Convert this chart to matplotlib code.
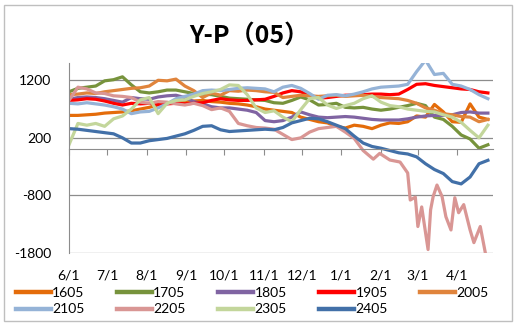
import numpy as np
import pandas as pd
import matplotlib
matplotlib.use('Agg')
import matplotlib.pyplot as plt
from matplotlib.patches import Rectangle

# days counted from 2023-06-01, one reading per week
days = list(range(0, 330, 7))

s1605 = [590, 590, 600, 610, 630, 640, 650, 670, 700, 730, 770, 800, 820, 830, 840, 850,
         830, 820, 800, 790, 770, 740, 700, 680, 660, 640, 560, 520, 480, 460, 400, 370,
         420, 400, 360, 420, 460, 450, 480, 580, 560, 780, 650, 480, 470, 790, 560, 520]
s1705 = [1000, 1060, 1080, 1100, 1190, 1210, 1260, 1120, 1000, 980, 1000, 1030, 1030, 1000, 970, 960,
         950, 920, 890, 880, 870, 860, 850, 810, 800, 850, 910, 860, 770, 780, 800, 730,
         720, 730, 700, 680, 700, 730, 760, 800, 760, 560, 520, 400, 250, 180, 20, 80]
s1805 = [870, 900, 910, 900, 880, 850, 820, 900, 880, 870, 910, 930, 940, 900, 830, 790,
         740, 720, 720, 700, 680, 640, 500, 480, 500, 560, 650, 600, 560, 550, 560, 570,
         560, 540, 520, 510, 510, 510, 530, 560, 580, 590, 590, 600, 640, 650, 630, 630]
s1905 = [850, 860, 880, 870, 840, 800, 770, 800, 790, 800, 780, 790, 800, 790, 800, 810,
         850, 880, 860, 850, 850, 860, 870, 920, 980, 1020, 1000, 940, 890, 900, 920, 940,
         940, 950, 960, 960, 950, 960, 1040, 1130, 1140, 1110, 1090, 1070, 1050, 1040, 1000, 980]
s2005 = [950, 960, 980, 970, 1000, 1020, 1040, 1060, 1070, 1100, 1200, 1190, 1220, 1100, 1020, 900,
         980, 940, 1020, 1010, 1030, 1020, 1000, 990, 900, 920, 940, 930, 920, 930, 940, 920,
         930, 940, 920, 900, 890, 880, 850, 800, 720, 680, 620, 600, 570, 560, 480, 520]
s2105 = [800, 790, 810, 790, 770, 740, 700, 620, 650, 660, 720, 790, 880, 920, 960, 1020,
         1030, 1020, 1040, 1060, 1070, 1060, 1050, 1000, 1080, 1110, 1060, 970, 870, 940, 950, 930,
         960, 1000, 1050, 1080, 1090, 1100, 1130, 1350, 1550, 1300, 1320, 1130, 1100, 1040, 950, 880]
s2305 = [80, 450, 420, 450, 400, 530, 580, 700, 860, 900, 620, 800, 850, 860, 920, 970,
         1000, 1040, 1120, 1110, 950, 720, 640, 670, 560, 480, 690, 880, 900, 770, 710, 760,
         800, 880, 930, 820, 760, 740, 700, 680, 660, 650, 600, 560, 470, 330, 200, 420]
s2405 = [360, 350, 330, 310, 290, 270, 200, 110, 110, 150, 170, 190, 230, 270, 330, 400,
         410, 340, 310, 320, 330, 340, 350, 340, 380, 460, 500, 540, 530, 480, 420, 360,
         230, 110, 50, 20, -20, -60, -80, -130, -250, -350, -420, -560, -600, -480, -250, -190]

# 2205 swings a lot near the end, so it is read more often there
days_2205 = list(range(0, 225, 7)) + [231, 239, 244, 252, 260, 266, 268, 272, 274, 277, 282, 284,
                                      286, 289, 293, 296, 300, 303, 306, 310, 315, 318, 323, 327]
s2205 = [850, 1080, 1050, 980, 970, 930, 920, 900, 820, 800, 830, 820, 790, 770, 800, 760,
         690, 720, 660, 450, 410, 380, 370, 350, 260, 170, 200, 300, 360, 380, 400, 300, 190,
         -20, -170, -70, -185, -220, -410, -880, -830, -1340, -1000, -1740, -1050,
         -820, -620, -820, -1170, -1400, -840, -1100, -960, -1400, -1620, -1340, -1800]

names = ['1605', '1705', '1805', '1905', '2005', '2105', '2205', '2305', '2405']
colors = ['#E46C0A', '#77933C', '#8064A2', '#FF0000', '#E0843C',
          '#95B3D7', '#D99694', '#C3D69B', '#4270A8']

month_days = [(d - pd.Timestamp('2023-06-01')).days
              for d in pd.date_range('2023-06-01', periods=11, freq='MS')]
month_labels = ['6/1', '7/1', '8/1', '9/1', '10/1', '11/1', '12/1', '1/1', '2/1', '3/1', '4/1']

plt.rcParams['font.family'] = ['Lato', 'DejaVu Sans']
plt.rcParams['axes.unicode_minus'] = False

fig = plt.figure(figsize=(5.16, 3.24), dpi=100)
ax = fig.add_axes([69/516, 1 - 253/324, 424/516, 190/324])

series = [s1605, s1705, s1805, s1905, s2005, s2105, s2205, s2305, s2405]
handles = []
for name, vals, c in zip(names, series, colors):
    xs = days_2205 if name == '2205' else days
    h, = ax.plot(xs, vals, color=c, lw=2.3, solid_joinstyle='round', label=name)
    handles.append(h)

ax.set_xlim(0, 333)
ax.set_ylim(-1800, 1500)
ax.set_yticks([1200, 200, -800, -1800])
ax.yaxis.grid(True, color='#8C8C8C', lw=0.9)
ax.set_axisbelow(True)
ax.tick_params(axis='y', length=0, pad=13, labelsize=10)

for s in ['top', 'right']:
    ax.spines[s].set_visible(False)
ax.spines['left'].set_color('#8C8C8C')
ax.spines['bottom'].set_position(('data', 0))
ax.spines['bottom'].set_color('#8C8C8C')
ax.set_xticks(month_days)
ax.tick_params(axis='x', direction='out', length=4.5, color='#8C8C8C', labelbottom=False)
for d, lab in zip(month_days, month_labels):
    ax.text(d, -0.121, lab, transform=ax.get_xaxis_transform(),
            ha='center', va='center', fontsize=10)

# row-wise legend order for 5 columns
order = [0, 5, 1, 6, 2, 7, 3, 8, 4]
fig.legend([handles[i] for i in order], [names[i] for i in order],
           ncol=5, loc='center left', bbox_to_anchor=(16/516, 1 - 301/324),
           frameon=False, fontsize=10, handlelength=2.5, handletextpad=0.1,
           columnspacing=2.35, labelspacing=0.35, borderpad=0, borderaxespad=0)
for lh in fig.legends[0].get_lines():
    lh.set_linewidth(3.2)

fig.text(249/516, 1 - 37/324, 'Y-P（05）', ha='center', va='center',
         fontsize=18, fontweight='bold', family=['Noto Sans CJK SC', 'DejaVu Sans'])

fig.patches.append(Rectangle((4/516, 1 - 321/324), 508/516, 316/324, transform=fig.transFigure,
                             fill=False, edgecolor='#BFBFBF', lw=1))

fig.savefig('out.png', dpi=100)
